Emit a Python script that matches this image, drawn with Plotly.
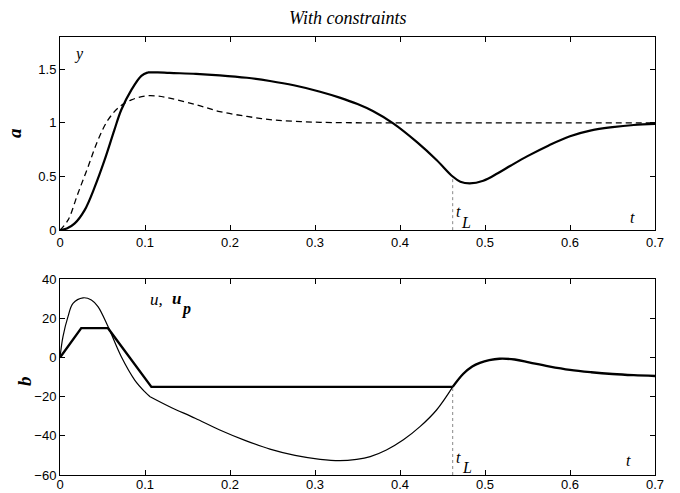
import plotly.graph_objects as go

# ---- data -----------------------------------------------------------------
T_L = 0.462  # switching time t_L

# output y (solid): rising part up to the peak, then the remaining trajectory
t_y_rise = [0, 0.008, 0.0173, 0.029, 0.041, 0.0525, 0.064, 0.072, 0.084, 0.0957, 0.1035]
y_rise = [0, 0.015, 0.063, 0.187, 0.405, 0.654, 0.934, 1.12, 1.307, 1.438, 1.47]
t_y_fall = [0.1035, 0.115, 0.129, 0.16, 0.188, 0.22, 0.247, 0.275, 0.306, 0.329,
            0.35, 0.368, 0.392, 0.42, 0.443, 0.462, 0.471, 0.482, 0.498, 0.515,
            0.53, 0.55, 0.575, 0.6, 0.625, 0.65, 0.675, 0.7]
y_fall = [1.47, 1.47, 1.465, 1.457, 1.443, 1.42, 1.39, 1.35, 1.29, 1.235,
          1.175, 1.11, 0.995, 0.82, 0.654, 0.50, 0.452, 0.436, 0.46, 0.53,
          0.6, 0.69, 0.79, 0.875, 0.93, 0.96, 0.98, 0.99]

# reference response (dashed)
t_ref = [0, 0.0094, 0.021, 0.033, 0.0447, 0.0565, 0.070, 0.084, 0.0996, 0.115,
         0.129, 0.16, 0.188, 0.22, 0.247, 0.275, 0.306, 0.37, 0.45, 0.55, 0.7]
y_ref = [0, 0.093, 0.34, 0.59, 0.84, 1.027, 1.15, 1.214, 1.25, 1.25,
         1.23, 1.17, 1.105, 1.06, 1.03, 1.015, 1.005, 1.0, 1.0, 1.0, 1.0]

# control u (thin): before and after the kink at t ~ 0.106
t_u1 = [0, 0.0035, 0.0094, 0.0153, 0.0271, 0.0369, 0.0447, 0.0565, 0.072, 0.0879, 0.0996, 0.106]
u1 = [0, 10.7, 20.9, 27.7, 30.5, 29.4, 26, 15.8, 0.5, -11.5, -17.4, -20]
t_u2 = [0.106, 0.129, 0.159, 0.188, 0.2176, 0.247, 0.2765, 0.306, 0.329, 0.349,
        0.365, 0.384, 0.404, 0.4235, 0.443, 0.462]
u2 = [-20, -25.1, -31, -37, -42.3, -46.8, -50, -52, -52.7, -52,
      -50.6, -47.2, -42, -35.3, -26.8, -15]

# common tail of u and u_p after t_L
t_tail = [0.462, 0.4745, 0.485, 0.494, 0.505, 0.517, 0.535, 0.553, 0.575, 0.6,
          0.625, 0.65, 0.675, 0.7]
u_tail = [-15, -8.3, -4.6, -2.7, -1.3, -0.6, -1.0, -2.6, -4.5, -6.3,
          -7.5, -8.4, -9.0, -9.4]

# constrained control u_p (thick, piecewise linear up to t_L)
t_up = [0, 0.025, 0.0565, 0.1075, 0.462]
u_p = [0, 15, 15, -15, -15]

x_ticks = [0, 0.1, 0.2, 0.3, 0.4, 0.5, 0.6, 0.7]
x_tick_text = ["0", "0.1", "0.2", "0.3", "0.4", "0.5", "0.6", "0.7"]
ya_ticks = [0, 0.5, 1, 1.5]
ya_tick_text = ["0", "0.5", "1", "1.5"]
yb_ticks = [-60, -40, -20, 0, 20, 40]
yb_tick_text = ["\u221260", "\u221240", "\u221220", "0", "20", "40"]

# ---- figure ----------------------------------------------------------------
fig = go.Figure()
BLACK = "black"


def curve(x, y, width, xa, ya, dash=None, shape="spline"):
    line = dict(color=BLACK, width=width, shape=shape)
    if shape == "spline":
        line["smoothing"] = 1.0
    if dash:
        line["dash"] = dash
    fig.add_trace(go.Scatter(x=x, y=y, mode="lines", line=line,
                             xaxis=xa, yaxis=ya, showlegend=False, hoverinfo="skip"))


# panel a
curve(t_ref, y_ref, 1.3, "x", "y", dash="6px,4px")
curve(t_y_rise, y_rise, 2.2, "x", "y")
curve(t_y_fall, y_fall, 2.2, "x", "y")
i_l = t_y_fall.index(T_L)
fig.add_trace(go.Scatter(x=[T_L, T_L], y=[0, y_fall[i_l]], mode="lines",
                         line=dict(color="#888888", width=1, dash="dot"),
                         xaxis="x", yaxis="y", showlegend=False, hoverinfo="skip"))

# panel b
curve(t_u1, u1, 1.2, "x2", "y2")
curve(t_u2, u2, 1.2, "x2", "y2")
curve(t_up, u_p, 2.4, "x2", "y2", shape="linear")
curve(t_tail, u_tail, 2.4, "x2", "y2")
fig.add_trace(go.Scatter(x=[T_L, T_L], y=[-60, u_p[-1]], mode="lines",
                         line=dict(color="#888888", width=1, dash="dot"),
                         xaxis="x2", yaxis="y2", showlegend=False, hoverinfo="skip"))

axis_style = dict(showgrid=False, zeroline=False, showline=True, linecolor=BLACK,
                  linewidth=1, mirror="ticks", ticks="inside", ticklen=5,
                  tickcolor=BLACK, tickwidth=1, automargin=False,
                  tickfont=dict(family="Liberation Sans, Arial", size=13, color=BLACK))

fig.update_layout(
    width=680, height=493,
    margin=dict(l=60, r=25, t=37, b=18),
    paper_bgcolor="white", plot_bgcolor="white",
    xaxis=dict(domain=[0, 1], range=[0, 0.7], anchor="y",
               tickvals=x_ticks, ticktext=x_tick_text, **axis_style),
    yaxis=dict(domain=[0.559, 1], range=[0, 1.8], anchor="x",
               tickvals=ya_ticks, ticktext=ya_tick_text, **axis_style),
    xaxis2=dict(domain=[0, 1], range=[0, 0.7], anchor="y2", ticklabelstandoff=-3,
                tickvals=x_ticks, ticktext=x_tick_text, **axis_style),
    yaxis2=dict(domain=[0, 0.447], range=[-60, 40], anchor="x2",
                tickvals=yb_ticks, ticktext=yb_tick_text, **axis_style),
)

SERIF = "Liberation Serif, Times New Roman, serif"


def label(text, x, y, size=16, xref="x", yref="y", angle=0):
    fig.add_annotation(text=text, x=x, y=y, xref=xref, yref=yref, showarrow=False,
                       xanchor="center", yanchor="middle", textangle=angle,
                       font=dict(family=SERIF, size=size, color=BLACK))


label("<i>With constraints</i>", 0.484, 1.043, size=18, xref="paper", yref="paper")
label("<b><i>a</i></b>", -0.0756, 0.781, size=19, xref="paper", yref="paper", angle=-90)
label("<b><i>b</i></b>", -0.0605, 0.2146, size=19, xref="paper", yref="paper", angle=-90)

# panel a text
label("<i>y</i>", 0.0218, 1.64)
label("<i>t</i>", 0.6735, 0.12)
label("<i>t</i>", 0.4688, 0.17)
label("<i>L</i>", 0.4776, 0.075)

# panel b text
label("<i>u,</i>", 0.113, 29.6, size=17, xref="x2", yref="y2")
label("<b><i>u</i></b>", 0.1376, 30.4, size=17, xref="x2", yref="y2")
label("<b><i>p</i></b>", 0.148, 25.0, size=16, xref="x2", yref="y2")
label("<i>t</i>", 0.4694, -51.2, xref="x2", yref="y2")
label("<i>L</i>", 0.4785, -56.2, xref="x2", yref="y2")
label("<i>t</i>", 0.669, -52.4, xref="x2", yref="y2")

fig.write_html("out.html")
